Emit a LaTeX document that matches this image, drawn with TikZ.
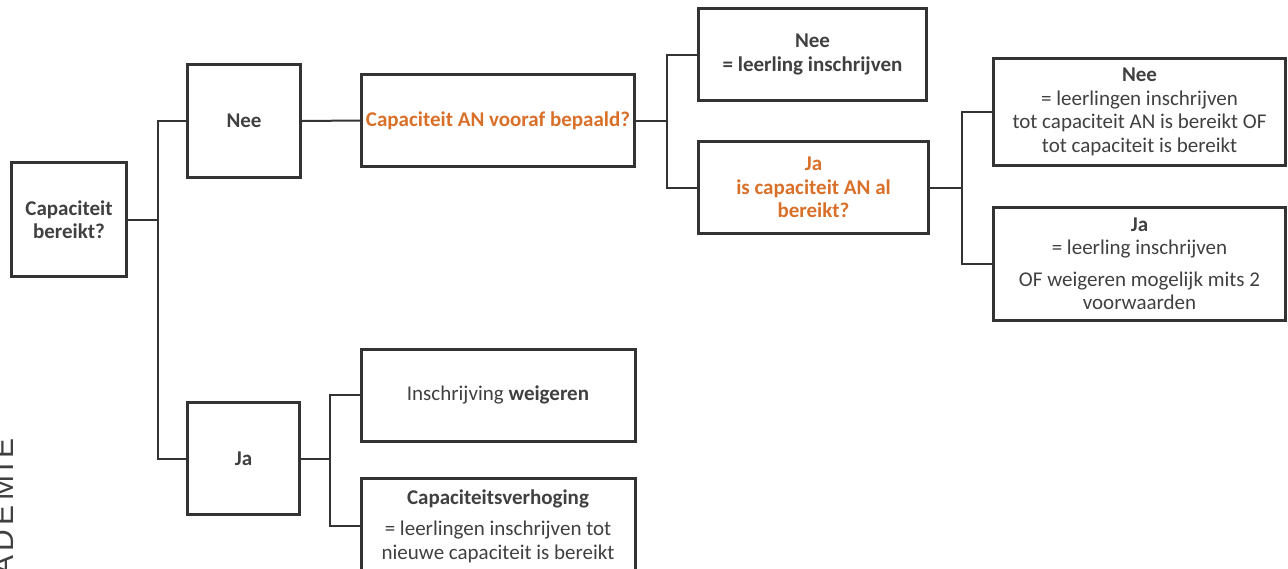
\documentclass[tikz,border=0pt]{standalone}
\usepackage{fontspec}
\setmainfont{Carlito}
\newfontfamily\sidefont[LetterSpace=15]{Liberation Sans}
\definecolor{ink}{HTML}{333333}
\definecolor{txt}{HTML}{404040}
\definecolor{org}{HTML}{D9702A}
\begin{document}
\begin{tikzpicture}[x=1pt,y=-1pt,
  box/.style={draw=ink, line width=3pt, inner sep=0pt, align=center, text=txt,
    font=\fontsize{21}{23.5}\selectfont},
  hot/.style={text=org},
  wire/.style={draw=ink, line width=2pt}]
\useasboundingbox (0,0) rectangle (1288,568);
\clip (0,0) rectangle (1288,568);
% side text
\node[rotate=90, anchor=base east, inner sep=0pt, text=txt, font=\sidefont\fontsize{30}{30}\selectfont] (side) at (13,438) {ADEMIE};
% boxes
\node[box, minimum width=115, minimum height=114] (A) at (69,219.5) {\bfseries Capaciteit\\\bfseries bereikt?};
\node[box, minimum width=113, minimum height=113] (B) at (244,121) {\bfseries Nee};
\node[box, minimum width=112, minimum height=112] (C) at (243.5,458.5) {\bfseries Ja};
\node[box, hot, minimum width=273, minimum height=92] (D) at (498,120.5) {\bfseries Capaciteit AN vooraf bepaald?};
\node[box, minimum width=228, minimum height=92] (E) at (812.5,54.5) {\bfseries Nee\\\bfseries = leerling inschrijven};
\node[box, hot, minimum width=230, minimum height=92] (F) at (813.5,187.5) {\bfseries Ja\\\bfseries is capaciteit AN al\\\bfseries bereikt?};
\node[box, minimum width=292, minimum height=107] (G) at (1139.5,112) {\bfseries Nee\\= leerlingen inschrijven\\tot capaciteit AN is bereikt OF\\tot capaciteit is bereikt};
\node[box, minimum width=292, minimum height=113] (H) at (1139.5,264) {\bfseries Ja\\= leerling inschrijven\\[8pt]OF weigeren mogelijk mits 2\\voorwaarden};
\node[box, minimum width=274, minimum height=92] (I) at (498,395) {Inschrijving \textbf{weigeren}};
\node[box, minimum width=274, minimum height=96] (J) at (498,526) {\bfseries Capaciteitsverhoging\\[8pt]= leerlingen inschrijven tot\\nieuwe capaciteit is bereikt};
% junctions
\coordinate (jA) at (158,219.5);
\coordinate (jC) at (330,458.5);
\coordinate (jD) at (667,120.5);
\coordinate (jF) at (962,187.5);
% connectors
\draw[wire] (A.east) -- (jA);
\draw[wire] (B.west) -| (jA);
\draw[wire] (C.west) -| (jA);
\draw[wire] (B.east) -- (D.west);
\draw[wire] (C.east) -- (jC);
\draw[wire] (I.west) -| (jC);
\draw[wire] (J.west) -| (jC);
\draw[wire] (D.east) -- (jD);
\draw[wire] (E.west) -| (jD);
\draw[wire] (F.west) -| (jD);
\draw[wire] (F.east) -- (jF);
\draw[wire] (G.west) -| (jF);
\draw[wire] (H.west) -| (jF);
\end{tikzpicture}
\end{document}
